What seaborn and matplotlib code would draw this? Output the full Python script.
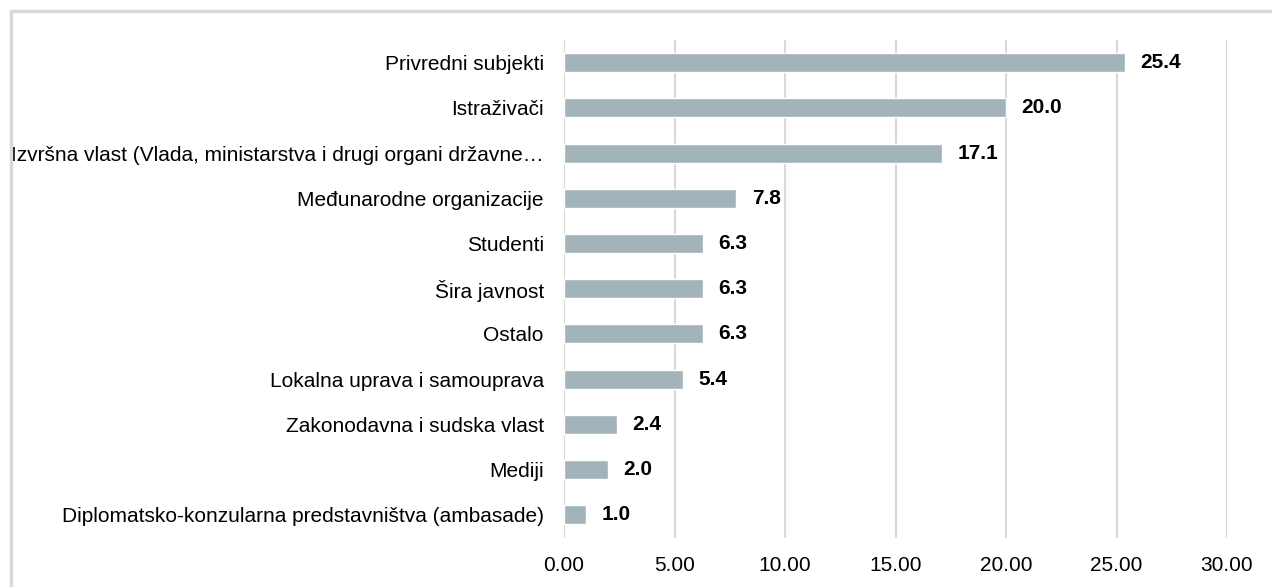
import matplotlib
matplotlib.use('Agg')
import matplotlib.pyplot as plt
import seaborn as sns
import pandas as pd
from matplotlib.patches import Rectangle

# Categories and shares (%)
categories = [
    'Privredni subjekti',
    'Istraživači',
    'Izvršna vlast (Vlada, ministarstva i drugi organi državne…',
    'Međunarodne organizacije',
    'Studenti',
    'Šira javnost',
    'Ostalo',
    'Lokalna uprava i samouprava',
    'Zakonodavna i sudska vlast',
    'Mediji',
    'Diplomatsko-konzularna predstavništva (ambasade)',
]
values = [25.4, 20.0, 17.1, 7.8, 6.3, 6.3, 6.3, 5.4, 2.4, 2.0, 1.0]
xticks = [0, 5, 10, 15, 20, 25, 30]

df = pd.DataFrame({'category': categories, 'value': values})

sns.set_style('white')
plt.rcParams['font.family'] = ['Liberation Sans', 'DejaVu Sans']
plt.rcParams['text.color'] = 'black'
plt.rcParams['xtick.color'] = 'black'
plt.rcParams['ytick.color'] = 'black'

fig = plt.figure(figsize=(12.72, 5.87), dpi=100)
ax = fig.add_axes([564 / 1272, 1 - 537.5 / 587, (1227 - 564) / 1272, (537.5 - 40) / 587])

sns.barplot(data=df, x='value', y='category', orient='h', color='#A2B4BA',
            width=0.42, saturation=1, ax=ax, zorder=3)

for i, v in enumerate(values):
    ax.annotate(f'{v:.1f}', xy=(v, i), xytext=(11, 0), textcoords='offset points',
                va='center', ha='left', fontsize=15, fontweight='bold', color='black')

ax.set_xlim(0, 30)
ax.set_ylim(len(categories) - 0.5, -0.5)
ax.set_xticks(xticks)
ax.set_xticklabels([f'{t:.2f}' for t in xticks], fontsize=15)
ax.tick_params(axis='y', labelsize=15, length=0, pad=14.5)
ax.tick_params(axis='x', length=0, pad=13)
ax.xaxis.grid(True, color='#D9D9D9', linewidth=1.5, zorder=0)
ax.yaxis.grid(False)
ax.set_axisbelow(True)
ax.set_xlabel('')
ax.set_ylabel('')
for s in ax.spines.values():
    s.set_visible(False)

# light frame around the chart area (cut off at right/bottom like the source)
fig.patches.append(Rectangle((11 / 1272, -0.05), 1.1, 1 - 11 / 587 + 0.05,
                             transform=fig.transFigure, fill=False,
                             edgecolor='#D9D9D9', linewidth=2.5))

fig.savefig('out.png', dpi=100)
